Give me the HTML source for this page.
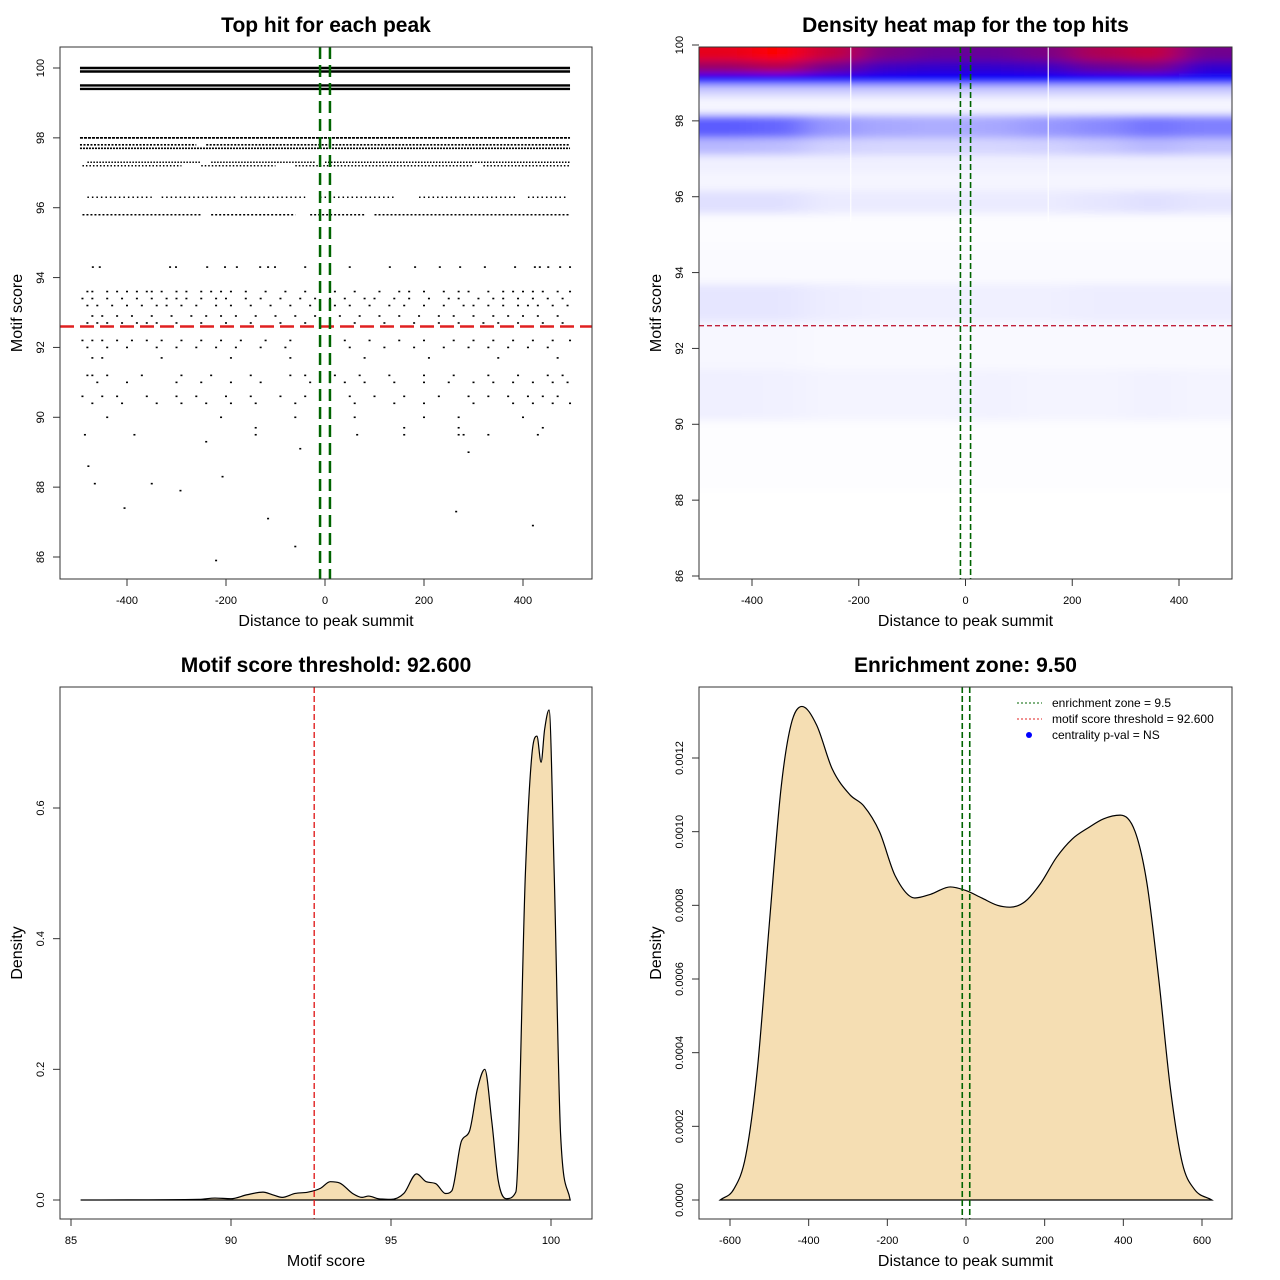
<!DOCTYPE html>
<html><head><meta charset="utf-8"><style>
html,body{margin:0;padding:0;background:#fff}
svg{display:block;font-family:"Liberation Sans",sans-serif}
</style></head><body>
<svg id="s" width="1280" height="1280" viewBox="0 0 1280 1280">
<defs>
<filter id="blur" x="-10%" y="-10%" width="120%" height="120%"><feGaussianBlur stdDeviation="16 4"/></filter>
<clipPath id="clip2"><rect x="699" y="47" width="533" height="532"/></clipPath>
</defs>
</svg>
<script>
// ---------- Panel 1 data ----------
const denseRows = [ // [score, segments in distance units]
 [100,[[-495,495]]],[99.9,[[-495,495]]],[99.5,[[-495,495]]],[99.4,[[-495,495]]],
 [98.0,[[-495,495]]],[97.8,[[-495,-260],[-240,495]]],[97.7,[[-495,495]]],
 [97.3,[[-480,-250],[-230,-20],[0,495]]],[97.2,[[-490,-290],[-250,-100],[-60,300],[320,495]]],
 [96.3,[[-480,-350],[-330,-180],[-170,-40],[-10,140],[190,390],[410,490]]],
 [95.8,[[-490,-250],[-230,-60],[-30,80],[100,495]]]
];
const denseDash = ["none","none","none","none","3 1","2 1.5","2 1","1.5 1.5","1.5 2","1.5 3","2 2"];
const denseWidth = [2.6,2.6,2.4,2.4,1.8,1.6,1.6,1.5,1.5,1.5,1.5];
const sparseRows = [
 [94.3,[-469,-455,-313,-301,-238,-202,-178,-131,-115,-101,-40,50,131,182,232,273,323,384,424,434,451,475,495]],
 [93.6,[-480,-470,-440,-420,-400,-380,-360,-350,-330,-300,-280,-250,-230,-210,-190,-160,-120,-80,-40,20,60,110,150,170,200,240,270,290,330,360,380,400,420,440,470,495]],
 [93.4,[-490,-470,-440,-410,-380,-350,-320,-300,-280,-250,-220,-200,-160,-130,-90,-50,-20,10,40,80,100,140,170,210,250,270,310,340,360,390,420,450,480]],
 [93.2,[-480,-460,-430,-400,-370,-340,-320,-290,-260,-220,-190,-150,-110,-70,-30,20,50,90,130,160,200,240,280,300,330,360,390,410,430,460,490]],
 [92.9,[-470,-450,-420,-390,-350,-310,-270,-240,-210,-180,-140,-100,-60,-20,30,70,110,150,190,230,260,300,340,370,400,430,470]],
 [92.7,[-480,-460,-440,-410,-380,-360,-340,-300,-250,-200,-150,-90,-40,10,60,120,180,230,270,320,350,390,440,480]],
 [92.2,[-490,-470,-450,-420,-390,-360,-330,-290,-250,-210,-170,-120,-70,40,90,150,200,260,300,340,380,420,460,495]],
 [92.0,[-480,-440,-400,-340,-300,-260,-220,-180,-130,-80,50,120,180,240,290,330,370,410,450]],
 [91.7,[-470,-450,-330,-190,-70,80,210,350,470]],
 [91.2,[-480,-470,-440,-370,-290,-230,-150,-70,-40,-10,20,70,130,200,260,330,390,450,480]],
 [91.0,[-460,-400,-300,-250,-190,-130,-30,10,40,80,140,200,250,300,340,380,420,460,490]],
 [90.6,[-490,-450,-420,-360,-300,-260,-200,-150,-90,-40,50,100,160,230,290,330,370,410,440,470]],
 [90.4,[-470,-410,-340,-290,-240,-190,-140,-60,60,140,200,300,380,420,460,495]],
 [90.0,[-440,-210,-60,60,200,270,400]],
 [89.7,[-140,160,270,440]],
 [89.5,[-485,-385,-140,65,160,270,280,330,430]]
];
const singlePts = [[-478,88.6],[-465,88.1],[-405,87.4],[-350,88.1],[-292,87.9],[-240,89.3],[-220,85.9],[-207,88.3],[-115,87.1],[-60,86.3],[-50,89.1],[265,87.3],[290,89.0],[420,86.9]];
// ---------- Panel 2 data ----------
const hmCols = [-450,-350,-250,-150,-50,50,150,250,350,450];
const hmRows = [100.3,99.75,99.4,99.1,98.8,98.5,97.8,97.3,96.9,96.4,95.9,95.2,94.2,93.2,92.2,90.7,89.5,87];
const hmVals = [
 [1,1,0.92,0.8,0.76,0.76,0.78,0.88,0.92,0.8],
 [0.95,1,0.88,0.74,0.7,0.7,0.74,0.84,0.88,0.72],
 [0.8,0.85,0.72,0.62,0.6,0.6,0.62,0.7,0.74,0.6],
 [0.5,0.5,0.5,0.5,0.5,0.5,0.5,0.5,0.5,0.48],
 [0.1,0.1,0.1,0.1,0.1,0.1,0.1,0.1,0.1,0.1],
 [0.02,0.02,0.02,0.02,0.02,0.02,0.02,0.02,0.02,0.02],
 [0.32,0.3,0.2,0.17,0.16,0.17,0.2,0.23,0.27,0.25],
 [0.14,0.13,0.09,0.08,0.08,0.08,0.09,0.11,0.14,0.12],
 [0.03,0.03,0.03,0.03,0.03,0.03,0.03,0.03,0.03,0.03],
 [0.02,0.02,0.02,0.02,0.02,0.02,0.02,0.02,0.02,0.02],
 [0.06,0.06,0.04,0.04,0.04,0.04,0.04,0.05,0.06,0.05],
 [0.005,0.005,0.005,0.005,0.005,0.005,0.005,0.005,0.005,0.005],
 [0.01,0.01,0.01,0.01,0.01,0.01,0.01,0.01,0.01,0.01],
 [0.05,0.05,0.035,0.03,0.03,0.03,0.03,0.035,0.035,0.035],
 [0.015,0.015,0.012,0.012,0.012,0.012,0.012,0.012,0.012,0.012],
 [0.03,0.028,0.022,0.022,0.022,0.026,0.022,0.022,0.026,0.022],
 [0.003,0.003,0.003,0.003,0.003,0.003,0.003,0.003,0.003,0.003],
 [0,0,0,0,0,0,0,0,0,0]
];
// ---------- Panel 3 data ----------
const scoreX = [85.3,89,89.5,90,90.5,91,91.3,91.6,92,92.4,92.8,93.1,93.4,93.8,94.1,94.3,94.6,95,95.4,95.8,96.1,96.4,96.7,96.9,97.2,97.45,97.7,97.93,98.15,98.35,98.6,98.9,99.2,99.4,99.56,99.69,99.8,99.94,100.1,100.3,100.6];
const scoreDens = [0,0.001,0.003,0.002,0.008,0.012,0.008,0.004,0.01,0.012,0.018,0.028,0.026,0.01,0.004,0.006,0.002,0.001,0.01,0.04,0.028,0.025,0.01,0.014,0.09,0.105,0.17,0.2,0.12,0.03,0.002,0.012,0.5,0.68,0.71,0.67,0.72,0.75,0.5,0.1,0];
// ---------- Panel 4 data ----------
const distX = [-625,-590,-560,-530,-500,-470,-445,-417,-380,-340,-295,-260,-220,-180,-130,-90,-40,0,40,80,112,150,190,230,270,310,350,392,430,460,490,520,550,580,625];
const distDens = [0,0.3,1.2,3.6,7.5,11.2,12.9,13.4,12.9,11.7,11.0,10.7,10.0,8.8,8.2,8.3,8.5,8.4,8.2,8.0,7.95,8.1,8.6,9.3,9.8,10.1,10.35,10.45,10.0,8.6,6.0,3.0,1.0,0.3,0]; // x1e-4
const xt1=[-400,-200,0,200,400], yt1=[86,88,90,92,94,96,98,100];
const yt2=[86,88,90,92,94,96,98,100];
const xt3=[85,90,95,100], yt3=[0,0.2,0.4,0.6], yt3l=["0.0","0.2","0.4","0.6"];
const xt4=[-600,-400,-200,0,200,400,600], yt4=[0,2,4,6,8,10,12], yt4l=["0.0000","0.0002","0.0004","0.0006","0.0008","0.0010","0.0012"];

const svg=document.getElementById('s');
const NS='http://www.w3.org/2000/svg';
function mk(tag,attrs,parent,txt){const e=document.createElementNS(NS,tag);for(const k in attrs)e.setAttribute(k,attrs[k]);if(txt!==undefined)e.textContent=txt;(parent||svg).appendChild(e);return e;}
function lin(d0,d1,r0,r1){return v=>r0+(v-d0)*(r1-r0)/(d1-d0);}
function monoPath(p){const n=p.length,d=[],m=[];for(let i=0;i<n-1;i++)d.push((p[i+1][1]-p[i][1])/(p[i+1][0]-p[i][0]));
 m[0]=d[0];m[n-1]=d[n-2];for(let i=1;i<n-1;i++){m[i]=(d[i-1]*d[i]<=0)?0:(d[i-1]+d[i])/2;}
 for(let i=0;i<n-1;i++){if(d[i]===0){m[i]=0;m[i+1]=0;continue;}const a=m[i]/d[i],b=m[i+1]/d[i],s=a*a+b*b;if(s>9){const t=3/Math.sqrt(s);m[i]=t*a*d[i];m[i+1]=t*b*d[i];}}
 let s='M'+p[0][0]+','+p[0][1];for(let i=0;i<n-1;i++){const h=(p[i+1][0]-p[i][0])/3;s+=` C${p[i][0]+h},${p[i][1]+m[i]*h} ${p[i+1][0]-h},${p[i+1][1]-m[i+1]*h} ${p[i+1][0]},${p[i+1][1]}`;}return s;}
function frame(name,box,title,xlab,ylab,xt,xl,sx,yt,yl,sy){
 const g=mk('g',{});
 const [x0,y0,x1,y1]=box;const cx=(x0+x1)/2,cy=(y0+y1)/2;
 const t=mk('text',{x:cx,y:y0-15,'font-size':21,'font-weight':'bold','text-anchor':'middle'},g,title);
 const xa=mk('g',{},g);
 xt.forEach((v,i)=>{const x=sx(v);mk('line',{x1:x,x2:x,y1:y1,y2:y1+7,stroke:'#333'},xa);const l=mk('text',{x:x,y:y1+25,'font-size':11,'text-anchor':'middle'},xa,xl[i]);});
 const xtl=mk('text',{x:cx,y:y1+47,'font-size':16,'text-anchor':'middle'},g,xlab);
 const ya=mk('g',{},g);
 yt.forEach((v,i)=>{const y=sy(v);mk('line',{x1:x0-7,x2:x0,y1:y,y2:y,stroke:'#333'},ya);const l=mk('text',{x:x0-16,y:y,'font-size':11,'text-anchor':'middle',transform:`rotate(-90 ${x0-16} ${y})`},ya,yl[i]);});
 const ytl=mk('text',{x:x0-38,y:cy,'font-size':16,'text-anchor':'middle',transform:`rotate(-90 ${x0-38} ${cy})`},g,ylab);
 return g;
}
function boxR(g,b){const r=mk('rect',{x:b[0],y:b[1],width:b[2]-b[0],height:b[3]-b[1],fill:'none',stroke:'#333','stroke-width':1},g);}

// Panel 1
(function(){
 const b=[60,47,592,579];const sx=lin(0,400,325,523),sy=lin(100,86,68,557);
 const g=frame('scatter-panel',b,'Top hit for each peak','Distance to peak summit','Motif score',xt1,xt1.map(String),sx,yt1,yt1.map(String),sy);
 const pg=mk('g',{},g);
 denseRows.forEach((r,i)=>{r[1].forEach(s=>{const l=mk('line',{x1:sx(s[0]),x2:sx(s[1]),y1:sy(r[0]),y2:sy(r[0]),stroke:'#000','stroke-width':denseWidth[i],'stroke-dasharray':denseDash[i]},pg);});});
 const dot=(x,s)=>{const e=mk('rect',{x:sx(x)-1,y:sy(s)-0.8,width:2,height:1.6,fill:'#000'},pg);};
 sparseRows.forEach(r=>r[1].forEach(x=>dot(x,r[0])));
 singlePts.forEach(p=>dot(p[0],p[1]));
 const rl=mk('line',{x1:60,x2:592,y1:sy(92.6),y2:sy(92.6),stroke:'#e02020','stroke-width':2.5,'stroke-dasharray':'14 6'},g);
 [-10,10].forEach(v=>{const l=mk('line',{x1:sx(v),x2:sx(v),y1:47,y2:579,stroke:'#006400','stroke-width':2.5,'stroke-dasharray':'12 6'},g);});
 boxR(g,b);
})();
// Panel 2
(function(){
 const b=[699,47,1232,579];const sx=lin(0,400,965.5,1179),sy=lin(100,86,45,576);
 const g=frame('heatmap-panel',b,'Density heat map for the top hits','Distance to peak summit','Motif score',xt1,xt1.map(String),sx,yt2,yt2.map(String),sy);
 const col=t=>{t=Math.max(0,Math.min(1,t));let r,gg,bb;if(t<0.5){r=gg=Math.round(255*(1-2*t));bb=255;}else{r=Math.round(255*(2*t-1));gg=0;bb=Math.round(255*(2-2*t));}return `rgb(${r},${gg},${bb})`;};
 const cg=mk('g',{'clip-path':'url(#clip2)'},g);
 const hg=mk('g',{filter:'url(#blur)'},cg);
 hmRows.forEach((s,ri)=>{const yA=ri===0?sy(s)-40:(sy(hmRows[ri-1])+sy(s))/2;const yB=ri===hmRows.length-1?sy(s)+60:(sy(s)+sy(hmRows[ri+1]))/2;
  hmCols.forEach((c,ci)=>{const xA=ci===0?sx(c)-80:(sx(hmCols[ci-1])+sx(c))/2;const xB=ci===hmCols.length-1?sx(c)+80:(sx(c)+sx(hmCols[ci+1]))/2;
   const r=mk('rect',{x:xA,y:yA,width:xB-xA+0.5,height:yB-yA+0.5,fill:col(hmVals[ri][ci])},hg);});});
 [-215,155].forEach(v=>{const l=mk('line',{x1:sx(v),x2:sx(v),y1:47,y2:222,stroke:'#fff','stroke-width':1.2,opacity:0.9},cg);});
 const rl=mk('line',{x1:699,x2:1232,y1:sy(92.6),y2:sy(92.6),stroke:'#c0203a','stroke-width':1.3,'stroke-dasharray':'5 3'},g);
 [-9.5,9.5].forEach(v=>{const l=mk('line',{x1:sx(v),x2:sx(v),y1:47,y2:579,stroke:'#006400','stroke-width':1.6,'stroke-dasharray':'6 3'},g);});
 boxR(g,b);
})();
// Panel 3
(function(){
 const b=[60,687,592,1219];const sx=lin(85,100,71,551),sy=lin(0,0.6,1200,808);
 const g=frame('score-density-panel',b,'Motif score threshold: 92.600','Motif score','Density',xt3,xt3.map(String),sx,yt3,yt3l,sy);
 const pts=scoreX.map((x,i)=>[sx(x),sy(scoreDens[i])]);
 const p=mk('path',{d:monoPath(pts)+' Z',fill:'#F5DEB3',stroke:'#000','stroke-width':1.2},g);
 const rl=mk('line',{x1:sx(92.6),x2:sx(92.6),y1:687,y2:1219,stroke:'#e02020','stroke-width':1.4,'stroke-dasharray':'6 3'},g);
 boxR(g,b);
})();
// Panel 4
(function(){
 const b=[699,687,1232,1219];const sx=lin(0,600,966,1202),sy=lin(0,12,1200,758);
 const g=frame('distance-density-panel',b,'Enrichment zone: 9.50','Distance to peak summit','Density',xt4,xt4.map(String),sx,yt4,yt4l,sy);
 const pts=distX.map((x,i)=>[sx(x),sy(distDens[i])]);
 const p=mk('path',{d:monoPath(pts)+' Z',fill:'#F5DEB3',stroke:'#000','stroke-width':1.2},g);
 [-9.5,9.5].forEach(v=>{const l=mk('line',{x1:sx(v),x2:sx(v),y1:687,y2:1219,stroke:'#006400','stroke-width':1.6,'stroke-dasharray':'6 3'},g);});
 boxR(g,b);
 const lg=mk('g',{},g);
 const e1=mk('g',{},lg);
 mk('line',{x1:1017,x2:1042,y1:703,y2:703,stroke:'#006400','stroke-dasharray':'2 2'},e1);
 mk('text',{x:1052,y:707,'font-size':12},e1,'enrichment zone = 9.5');
 const e2=mk('g',{},lg);
 mk('line',{x1:1017,x2:1042,y1:719,y2:719,stroke:'#e02020','stroke-dasharray':'2 2'},e2);
 mk('text',{x:1052,y:723,'font-size':12},e2,'motif score threshold = 92.600');
 const e3=mk('g',{},lg);
 mk('circle',{cx:1029,cy:735,r:3,fill:'#0000ff'},e3);
 mk('text',{x:1052,y:739,'font-size':12},e3,'centrality p-val = NS');
})();
</script>
</body></html>
